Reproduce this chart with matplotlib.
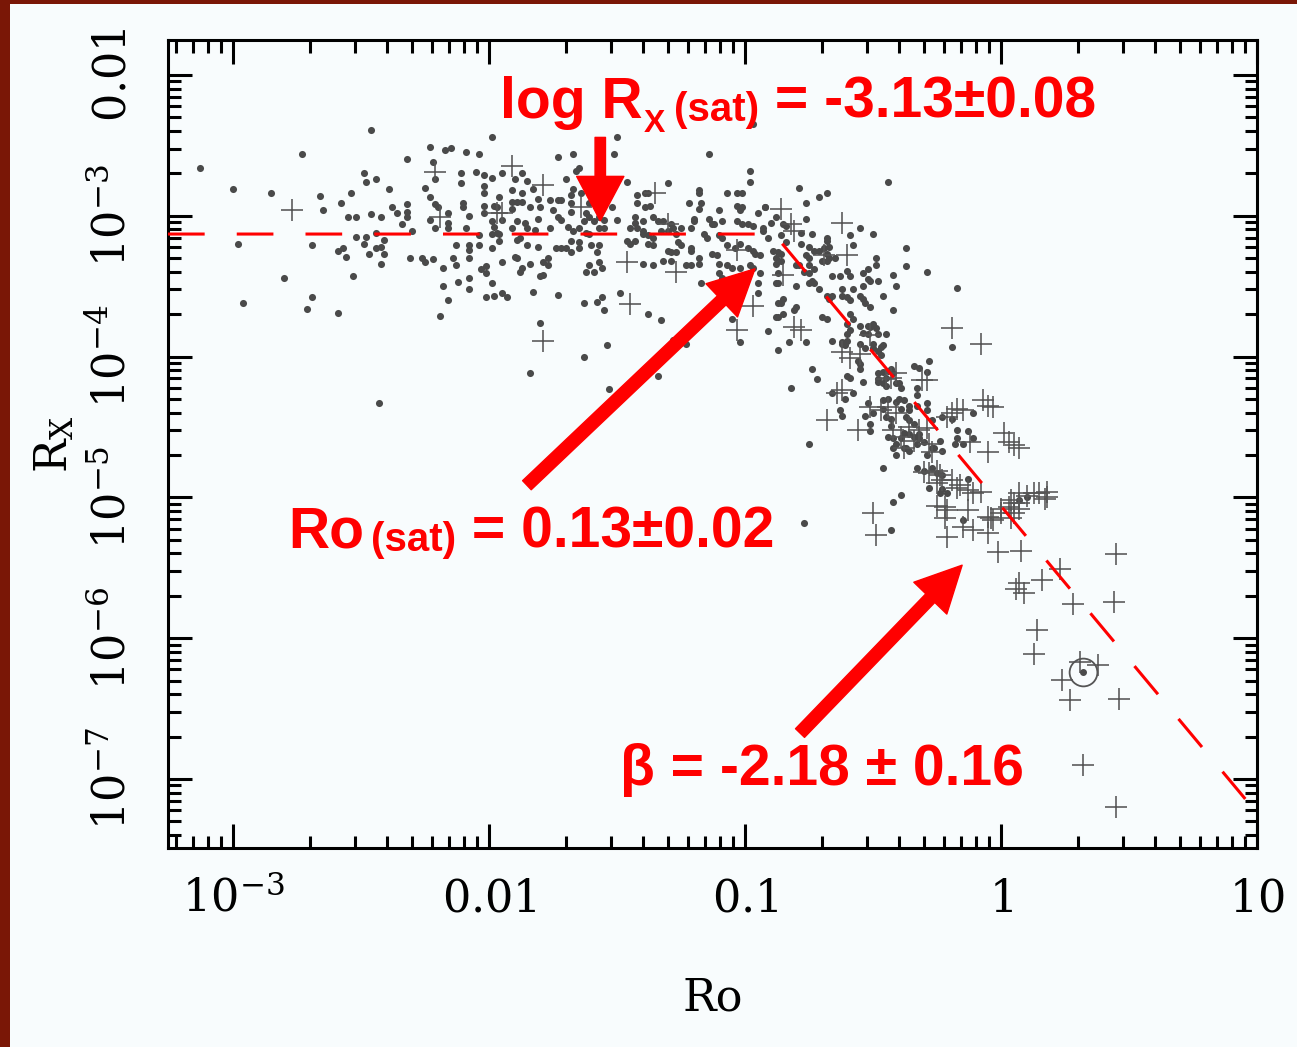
import numpy as np
import matplotlib
matplotlib.use("Agg")
import matplotlib.pyplot as plt
from matplotlib.patches import FancyArrowPatch, Rectangle
from matplotlib.ticker import FixedLocator, FixedFormatter, LogLocator, NullFormatter

# -----------------------------
# Data: (log10 Ro, log10 R_X)
# -----------------------------

sat_dots = [
    (-3.13, -2.66), (-3.00, -2.81), (-2.85, -2.84), (-2.73, -2.56), (-2.98, -3.20), (-2.96, -3.62),
    (-2.80, -3.44), (-2.66, -2.86), (-2.65, -2.96), (-2.69, -3.21), (-2.69, -3.58), (-2.71, -3.66),
    (-2.59, -3.69), (-2.58, -2.91), (-2.54, -2.84), (-2.55, -3.01), (-2.52, -3.01), (-2.52, -3.15),
    (-2.59, -3.25), (-2.57, -3.23), (-2.56, -3.29), (-2.53, -3.43), (-2.49, -2.70), (-2.48, -2.76),
    (-2.46, -2.39), (-2.44, -2.74), (-2.46, -2.99), (-2.42, -3.01), (-2.48, -3.15), (-2.49, -3.20),
    (-2.47, -3.27), (-2.44, -3.23), (-2.42, -3.22), (-2.44, -3.12), (-2.41, -3.17), (-2.41, -3.27),
    (-2.42, -3.34), (-2.39, -2.81), (-2.38, -2.94), (-2.36, -2.98), (-2.32, -2.92), (-2.32, -2.97),
    (-2.32, -3.01), (-2.34, -3.06), (-2.30, -3.11), (-2.32, -2.60), (-2.31, -3.30), (-2.26, -3.30),
    (-2.25, -3.33), (-2.22, -3.31), (-2.25, -2.80), (-2.23, -2.87), (-2.23, -2.51), (-2.22, -2.62),
    (-2.21, -2.74), (-2.21, -2.92), (-2.20, -2.94), (-2.23, -3.03), (-2.21, -3.09), (-2.16, -2.98),
    (-2.16, -3.05), (-2.16, -3.09), (-2.18, -3.37), (-2.18, -3.50), (-2.16, -3.60), (-2.19, -3.71),
    (-2.17, -2.53), (-2.15, -2.52), (-2.14, -3.30), (-2.13, -3.35), (-2.13, -3.21), (-2.12, -3.47),
    (-2.11, -2.70), (-2.11, -2.77), (-2.10, -2.91), (-2.10, -2.94), (-2.09, -3.09), (-2.09, -2.55),
    (-2.08, -3.00), (-2.08, -3.21), (-2.08, -3.24), (-2.08, -3.30), (-2.08, -3.44), (-2.08, -3.52),
    (-2.05, -2.69), (-2.04, -2.56), (-2.02, -2.71), (-2.02, -2.79), (-2.02, -2.84), (-2.02, -2.93),
    (-2.02, -2.98), (-2.04, -3.14), (-2.04, -3.21), (-2.03, -3.38), (-2.01, -3.36), (-2.01, -3.41),
    (-2.01, -3.58), (-1.98, -3.57), (-1.99, -3.48), (-1.99, -2.44), (-1.99, -2.73), (-1.98, -2.93),
    (-1.99, -3.04), (-1.99, -3.13), (-1.99, -3.23), (-1.97, -3.12), (-2.43, -4.33),
]

band_dots = [
    (-1.73, -2.58), (-1.67, -2.56), (-1.50, -2.44), (-1.51, -2.56), (-1.65, -2.66), (-1.66, -2.68),
    (-1.95, -2.70), (-1.87, -2.70), (-1.90, -2.74), (-1.85, -2.75), (-1.70, -2.74), (-1.83, -2.81),
    (-1.91, -2.82), (-1.87, -2.84), (-1.46, -2.76), (-1.67, -2.81), (-1.68, -2.85), (-1.96, -2.87),
    (-1.81, -2.88), (-1.76, -2.89), (-1.73, -2.89), (-1.72, -2.89), (-1.68, -2.91), (-1.64, -2.84),
    (-1.91, -2.90), (-1.89, -2.90), (-1.87, -2.90), (-1.97, -2.94), (-1.91, -2.95), (-1.84, -2.94),
    (-1.80, -2.94), (-1.75, -2.96), (-1.73, -3.01), (-1.72, -3.03), (-1.68, -2.97), (-1.61, -2.91),
    (-1.52, -2.94), (-1.95, -3.03), (-1.89, -3.04), (-1.81, -3.02), (-1.86, -3.05), (-1.62, -2.98),
    (-1.61, -3.01), (-1.59, -3.04), (-1.57, -3.01), (-1.55, -3.03), (-1.57, -3.09), (-1.55, -3.09),
    (-1.50, -3.03), (-1.98, -3.08), (-1.96, -3.13), (-1.91, -3.09), (-1.85, -3.09), (-1.82, -3.10),
    (-1.76, -3.09), (-1.69, -3.08), (-1.67, -3.11), (-1.65, -3.09), (-1.62, -3.12), (-1.61, -3.13),
    (-1.63, -3.04), (-1.96, -3.18), (-1.89, -3.17), (-1.88, -3.16), (-1.85, -3.21), (-1.81, -3.22),
    (-1.74, -3.23), (-1.72, -3.23), (-1.70, -3.23), (-1.68, -3.18), (-1.68, -3.26), (-1.65, -3.19),
    (-1.65, -3.23), (-1.60, -3.21), (-1.58, -3.26), (-1.57, -3.21), (-1.90, -3.29), (-1.89, -3.30),
    (-1.95, -3.33), (-1.84, -3.34), (-1.79, -3.33), (-1.77, -3.30), (-1.87, -3.37), (-1.88, -3.40),
    (-1.61, -3.35), (-1.59, -3.40), (-1.62, -3.40), (-1.57, -3.33), (-1.56, -3.37), (-1.77, -3.35),
    (-1.79, -3.42), (-1.80, -3.43), (-1.95, -3.55), (-1.93, -3.58), (-1.83, -3.54), (-1.73, -3.56),
    (-1.63, -3.62), (-1.58, -3.61), (-1.56, -3.58), (-1.55, -3.67), (-1.80, -3.76), (-1.49, -3.55),
    (-1.42, -2.85), (-1.39, -2.84), (-1.38, -2.84), (-1.42, -2.91), (-1.39, -2.94), (-1.37, -2.93),
    (-1.43, -3.01), (-1.43, -3.05), (-1.40, -3.04), (-1.45, -3.09), (-1.42, -3.09), (-1.40, -3.11),
    (-1.46, -3.18), (-1.45, -3.20), (-1.43, -3.18), (-1.40, -3.13), (-1.38, -3.14), (-1.36, -3.16),
    (-1.38, -3.20), (-1.36, -3.21), (-1.30, -2.77), (-1.30, -3.25), (-1.29, -3.26), (-1.36, -3.01),
    (-1.34, -3.04), (-1.32, -3.04), (-1.33, -3.11), (-1.30, -3.11), (-1.29, -3.06), (-1.28, -3.09),
    (-1.27, -3.13), (-1.25, -3.09), (-1.21, -3.09), (-1.26, -3.19), (-1.25, -3.21), (-1.27, -3.26),
    (-1.21, -3.23), (-1.21, -3.25), (-1.32, -3.32), (-1.29, -3.32), (-1.40, -3.34), (-1.36, -3.35),
    (-1.23, -3.35), (-1.21, -3.35), (-1.18, -3.30), (-1.18, -3.34), (-1.22, -2.91), (-1.18, -2.84),
    (-1.17, -2.91), (-1.18, -2.95), (-1.18, -2.82), (-1.14, -2.56), (-0.98, -2.68), (-0.98, -2.76),
    (-1.20, -3.04), (-1.20, -3.02), (-1.16, -3.13), (-1.15, -3.16), (-1.14, -3.02), (-1.10, -2.96),
    (-1.13, -3.06), (-1.12, -3.06), (-1.09, -3.04), (-1.07, -2.84), (-1.03, -2.84), (-1.01, -2.84),
    (-1.03, -2.93), (-1.02, -2.96), (-1.01, -2.94), (-0.95, -2.98), (-0.92, -2.94), (-1.10, -3.14),
    (-1.09, -3.16), (-1.03, -3.04), (-1.01, -3.06), (-0.99, -3.06), (-0.97, -3.07), (-0.93, -3.09),
    (-1.13, -3.27), (-1.11, -3.28), (-1.07, -3.21), (-1.04, -3.23), (-1.02, -3.20), (-0.99, -3.23),
    (-0.97, -3.25), (-0.96, -3.27), (-0.94, -3.28), (-1.10, -3.34), (-1.07, -3.35), (-1.05, -3.37),
    (-1.02, -3.37), (-0.98, -3.35), (-0.97, -3.37), (-1.10, -3.41), (-1.09, -3.44), (-1.17, -3.48),
    (-1.10, -3.48), (-0.95, -3.48), (-0.95, -3.55), (-1.05, -3.73), (-0.97, -2.35), (-1.38, -3.70),
    (-1.33, -3.74), (-1.63, -4.00), (-1.54, -3.92), (-1.84, -4.12), (-1.34, -4.14), (-1.53, -4.23),
    (-1.28, -3.88), (-1.23, -3.91), (-1.02, -3.90), (-0.91, -3.82), (-0.87, -3.95), (-0.94, -3.41),
    (-0.88, -3.48), (-0.87, -3.62), (-0.88, -3.72), (-0.77, -5.18),
]

knee_dots = [
    (-0.79, -2.80), (-0.71, -2.87), (-0.68, -2.84), (-0.44, -2.76), (-0.76, -2.91), (-0.92, -2.94),
    (-0.88, -3.01), (-0.90, -3.05), (-0.85, -3.06), (-0.84, -3.07), (-0.76, -3.02), (-0.78, -3.12),
    (-0.74, -3.13), (-0.93, -3.11), (-0.91, -3.16), (-0.86, -3.14), (-0.84, -3.19), (-0.68, -3.16),
    (-0.68, -3.18), (-0.78, -3.20), (-0.59, -3.14), (-0.55, -3.09), (-0.50, -3.13), (-0.75, -3.22),
    (-0.73, -3.25), (-0.89, -3.25), (-0.87, -3.26), (-0.86, -3.27), (-0.69, -3.23), (-0.67, -3.22),
    (-0.58, -3.21), (-0.37, -3.23), (-0.88, -3.30), (-0.86, -3.32), (-0.88, -3.34), (-0.76, -3.28),
    (-0.75, -3.30), (-0.71, -3.25), (-0.68, -3.27), (-0.67, -3.30), (-0.70, -3.32), (-0.68, -3.32),
    (-0.65, -3.30), (-0.49, -3.30), (-0.49, -3.35), (-0.52, -3.38), (-0.37, -3.36), (-0.29, -3.40),
    (-0.80, -3.35), (-0.79, -3.35), (-0.75, -3.35), (-0.73, -3.38), (-0.77, -3.40), (-0.75, -3.41),
    (-0.60, -3.39), (-0.87, -3.41), (-0.66, -3.43), (-0.63, -3.43), (-0.59, -3.43), (-0.54, -3.41),
    (-0.52, -3.45), (-0.51, -3.46), (-0.48, -3.46), (-0.42, -3.42), (-0.74, -3.46), (-0.73, -3.48),
    (-0.75, -3.48), (-0.80, -3.50), (-0.87, -3.48), (-0.58, -3.52), (-0.54, -3.50), (-0.41, -3.50),
    (-0.17, -3.51), (-0.71, -3.52), (-0.62, -3.52), (-0.68, -3.57), (-0.67, -3.59), (-0.66, -3.57),
    (-0.62, -3.57), (-0.60, -3.58), (-0.59, -3.60), (-0.55, -3.57), (-0.54, -3.59), (-0.53, -3.62),
    (-0.51, -3.65), (-0.46, -3.57), (-0.85, -3.59), (-0.86, -3.62), (-0.80, -3.65), (-0.81, -3.67),
    (-0.42, -3.67), (-0.70, -3.72), (-0.68, -3.73), (-0.59, -3.70), (-0.87, -3.72), (-0.85, -3.70),
    (-0.58, -3.73), (-0.60, -3.77), (-0.55, -3.78), (-0.52, -3.78), (-0.51, -3.79), (-0.50, -3.77),
    (-0.49, -3.80), (-0.48, -3.84), (-0.54, -3.83), (-0.52, -3.84), (-0.45, -3.84), (-0.59, -3.81),
    (-0.60, -3.84), (-0.83, -3.90), (-0.76, -3.90), (-0.66, -3.89), (-0.62, -3.90), (-0.60, -3.89),
    (-0.61, -3.92), (-0.55, -3.91), (-0.53, -3.94), (-0.50, -3.91), (-0.46, -3.92), (-0.47, -3.99),
    (-0.48, -3.96), (-0.19, -3.93), (-0.56, -4.03), (-0.55, -4.09), (-0.74, -4.09), (-0.72, -4.16),
    (-0.60, -4.14), (-0.34, -4.07), (-0.32, -4.08), (-0.29, -4.11), (-0.28, -4.03), (-0.48, -4.12),
    (-0.48, -4.16), (-0.45, -4.15), (-0.44, -4.10), (-0.42, -4.12), (-0.82, -4.22), (-0.41, -4.19),
]

tail_dots = [
    (-0.62, -3.91), (-0.50, -3.94), (-0.47, -3.93), (-0.55, -4.05), (-0.59, -4.15), (-0.54, -4.18),
    (-0.46, -4.11), (-0.48, -4.18), (-0.46, -4.19), (-0.45, -4.21), (-0.43, -4.09), (-0.40, -4.19),
    (-0.39, -4.22), (-0.33, -4.22), (-0.33, -4.27), (-0.66, -4.26), (-0.61, -4.30), (-0.58, -4.26),
    (-0.52, -4.33), (-0.50, -4.40), (-0.46, -4.31), (-0.44, -4.30), (-0.41, -4.32), (-0.40, -4.30),
    (-0.38, -4.31), (-0.36, -4.38), (-0.36, -4.35), (-0.33, -4.35), (-0.29, -4.33), (-0.63, -4.38),
    (-0.62, -4.42), (-0.53, -4.42), (-0.51, -4.48), (-0.51, -4.53), (-0.46, -4.37), (-0.45, -4.43),
    (-0.43, -4.44), (-0.43, -4.49), (-0.39, -4.37), (-0.37, -4.43), (-0.36, -4.45), (-0.34, -4.48),
    (-0.29, -4.38), (-0.27, -4.45), (-0.23, -4.43), (-0.44, -4.57), (-0.42, -4.58), (-0.41, -4.62),
    (-0.42, -4.65), (-0.41, -4.70), (-0.39, -4.58), (-0.38, -4.65), (-0.38, -4.54), (-0.36, -4.55),
    (-0.34, -4.57), (-0.32, -4.58), (-0.33, -4.62), (-0.32, -4.55), (-0.30, -4.61), (-0.27, -4.65),
    (-0.26, -4.65), (-0.24, -4.60), (-0.37, -4.65), (-0.36, -4.67), (-0.29, -4.70), (-0.23, -4.67),
    (-0.18, -4.62), (-0.17, -4.58), (-0.15, -4.62), (-0.19, -4.44), (-0.17, -4.52), (-0.13, -4.53),
    (-0.11, -4.40), (-0.11, -4.58), (-0.46, -4.79), (-0.75, -4.62), (-0.33, -4.79), (-0.30, -4.81),
    (-0.27, -4.79), (-0.25, -4.83), (-0.23, -4.84), (-0.28, -4.93), (-0.24, -4.97), (-0.21, -4.97),
    (-0.23, -4.94), (-0.39, -4.98), (-0.42, -5.03), (-0.13, -4.87), (-0.15, -5.16), (-0.43, -5.23),
    (0.07, -5.02), (0.10, -5.00),
]

cross_pts = [
    (-2.77, -2.96), (-2.21, -2.69), (-2.19, -3.01), (-1.97, -2.98), (-1.91, -2.65), (-1.79, -2.78),
    (-1.95, -2.98), (-1.64, -2.94), (-1.35, -2.84), (-1.30, -3.06), (-1.46, -3.33), (-1.27, -3.40),
    (-1.45, -3.63), (-1.79, -3.89), (-1.03, -3.24), (-0.97, -3.64), (-1.03, -3.81), (-0.86, -2.95),
    (-0.82, -3.06), (-0.81, -3.11), (-0.62, -3.05), (-0.60, -3.28), (-0.69, -3.28), (-0.85, -3.42),
    (-0.81, -3.79), (-0.78, -3.81), (-0.19, -3.80), (-0.08, -3.91), (-0.62, -3.97), (-0.55, -3.98),
    (-0.51, -3.85), (-0.43, -4.15), (-0.45, -4.16), (-0.31, -4.17), (-0.64, -4.26), (-0.62, -4.24),
    (-0.59, -4.01), (-0.41, -4.12), (-0.29, -4.17), (-0.68, -4.45), (-0.56, -4.52), (-0.51, -4.36),
    (-0.47, -4.38), (-0.44, -4.36), (-0.41, -4.40), (-0.36, -4.50), (-0.34, -4.60), (-0.32, -4.52),
    (-0.29, -4.51), (-0.42, -4.52), (-0.39, -4.57), (-0.38, -4.65), (-0.28, -4.62), (-0.27, -4.68),
    (-0.21, -4.43), (-0.19, -4.40), (-0.17, -4.37), (-0.15, -4.38), (-0.07, -4.31), (-0.05, -4.35),
    (-0.03, -4.36), (-0.05, -4.68), (0.01, -4.54), (0.03, -4.61), (0.05, -4.63), (0.07, -4.65),
    (-0.12, -4.61), (-0.30, -4.82), (-0.28, -4.83), (-0.25, -4.81), (-0.24, -4.84), (-0.19, -4.88),
    (-0.17, -4.93), (-0.11, -4.97), (-0.08, -4.96), (-0.22, -5.07), (-0.21, -5.09), (-0.13, -5.09),
    (-0.05, -5.14), (-0.03, -5.16), (0.00, -5.11), (-0.50, -5.11), (-0.49, -5.27), (-0.21, -5.28),
    (-0.15, -5.21), (-0.11, -5.23), (0.00, -5.08), (0.03, -5.07), (0.05, -5.04), (0.07, -4.97),
    (0.10, -4.99), (0.13, -4.97), (0.18, -4.96), (0.18, -5.00), (-0.01, -5.39), (0.08, -5.38),
    (-0.25, -4.90), (-0.23, -4.88), (-0.16, -4.91), (-0.13, -4.95), (-0.25, -5.06), (-0.22, -5.15),
    (-0.04, -5.15), (-0.05, -5.25), (0.04, -5.15), (0.05, -5.11), (0.07, -5.08), (0.15, -4.97),
    (0.17, -5.01), (0.04, -5.02), (0.07, -5.04), (0.23, -5.51), (0.16, -5.59), (0.07, -5.61),
    (0.06, -5.65), (0.09, -5.68), (0.45, -5.40), (0.28, -5.76), (0.44, -5.74), (0.14, -5.94),
    (0.13, -6.11), (0.31, -6.17), (0.38, -6.19), (0.24, -6.30), (0.27, -6.44), (0.46, -6.43),
    (0.32, -6.90), (0.45, -7.20),
]

sun_log = (0.32, -6.24)

# fit parameters
LOG_RX_SAT = -3.13
RO_SAT = 0.13
BETA = -2.18

XLIM = (10 ** -3.254, 10.0)
YLIM = (10 ** -7.49, 10 ** -1.752)

X_TICKS = [1e-3, 1e-2, 1e-1, 1, 10]
X_TICK_LABELS = [r"$10^{-3}$", r"$0.01$", r"$0.1$", r"$1$", r"$10$"]
Y_TICKS = [1e-2, 1e-3, 1e-4, 1e-5, 1e-6, 1e-7]
Y_TICK_LABELS = [r"$0.01$", r"$10^{-3}$", r"$10^{-4}$", r"$10^{-5}$", r"$10^{-6}$", r"$10^{-7}$"]

# -----------------------------
# Figure
# -----------------------------
W, H = 1297, 1047
plt.rcParams["font.family"] = "DejaVu Serif"
plt.rcParams["mathtext.fontset"] = "dejavuserif"

fig = plt.figure(figsize=(W / 100, H / 100), dpi=100)
fig.patch.set_facecolor("#7a1706")
fig.add_artist(Rectangle((10 / W, 0), 1 - 10 / W, 1 - 4 / H, transform=fig.transFigure,
                         facecolor="#f8fcfd", edgecolor="none", zorder=-1))

ax = fig.add_axes([168 / W, 1 - 848 / H, 1089 / W, 808 / H])
ax.set_facecolor("#f8fcfd")
ax.set_xscale("log")
ax.set_yscale("log")
ax.set_xlim(*XLIM)
ax.set_ylim(*YLIM)


def unpack(pts):
    arr = np.array(pts)
    return 10 ** arr[:, 0], 10 ** arr[:, 1]


for grp in (sat_dots, band_dots, knee_dots, tail_dots):
    x, y = unpack(grp)
    ax.scatter(x, y, s=26, color="#4a4a4a", linewidths=0, zorder=2)

x, y = unpack(cross_pts)
ax.scatter(x, y, s=270, marker="+", color="#555555", linewidths=1.15, zorder=2)

ax.plot(10 ** sun_log[0], 10 ** sun_log[1], "o", mfc="none", mec="#555555", ms=20, mew=1.3, zorder=2)
ax.plot(10 ** sun_log[0], 10 ** sun_log[1], "o", color="#4a4a4a", ms=4, zorder=2)

# saturation + power-law fit
ro_fit = np.array([XLIM[0], RO_SAT, 9.0])
rx_fit = 10 ** LOG_RX_SAT * np.where(ro_fit > RO_SAT, (ro_fit / RO_SAT) ** BETA, 1.0)
ax.plot(ro_fit, rx_fit, color="red", lw=2.2, dashes=(12, 10.5), zorder=3)

# arrows
arrows = [
    ((0.0272, 3.6e-3), (0.0272, 9.2e-4), "simple,head_length=32,head_width=34,tail_width=7.5"),
    ((0.01406, 1.22e-5), (0.1094, 4.2e-4), "simple,head_length=33,head_width=33,tail_width=9"),
    ((0.164, 2.12e-7), (0.705, 3.3e-6), "simple,head_length=33,head_width=33,tail_width=9"),
]
for a, b, style in arrows:
    ax.add_patch(FancyArrowPatch(a, b, arrowstyle=style, mutation_scale=1, color="red",
                                 shrinkA=0, shrinkB=0, zorder=4))

# -----------------------------
# Axes styling
# -----------------------------
for s in ax.spines.values():
    s.set_linewidth(2.2)

ax.xaxis.set_major_locator(FixedLocator(X_TICKS))
ax.xaxis.set_major_formatter(FixedFormatter(X_TICK_LABELS))
ax.yaxis.set_major_locator(FixedLocator(Y_TICKS))
ax.yaxis.set_major_formatter(FixedFormatter(Y_TICK_LABELS))
for axis in (ax.xaxis, ax.yaxis):
    axis.set_minor_locator(LogLocator(base=10, subs=np.arange(2, 10), numticks=30))
    axis.set_minor_formatter(NullFormatter())

ax.tick_params(which="both", direction="in", top=True, right=True, width=2.2, labelsize=32, color="black")
ax.tick_params(which="major", length=17)
ax.tick_params(which="minor", length=9)
ax.tick_params(axis="x", pad=46)
ax.tick_params(axis="y", pad=24, labelrotation=90)
for lab in ax.get_xticklabels():
    lab.set_verticalalignment("baseline")
for lab in ax.get_yticklabels():
    lab.set_verticalalignment("center")

ax.set_xlabel("Ro", fontsize=32, labelpad=40)
ax.set_ylabel(r"R$_\mathrm{X}$", fontsize=32, labelpad=10)

# -----------------------------
# Red annotations
# -----------------------------
SANS = ["Liberation Sans", "DejaVu Sans"]
BIG, SMALL, SUB = 41, 29, 23


def start(px, py, s):
    return fig.text(px / W, 1 - py / H, s, fontsize=BIG, fontweight="bold", color="red",
                    family=SANS, ha="left", va="baseline", zorder=6)


def chain(prev, base, s, size, dx, dy):
    return ax.annotate(s, xy=(1, 0), xycoords=(prev, base), xytext=(dx, dy),
                       textcoords="offset pixels", ha="left", va="bottom", fontsize=size,
                       fontweight="bold", color="red", family=SANS, zorder=6)


t1 = start(500, 118, "log R")
t1x = chain(t1, t1, "X", SUB, 1, -9)
t1s = chain(t1x, t1, "(sat)", SMALL, 9, 1)
chain(t1s, t1, " = -3.13\u00b10.08", BIG, 0, 0)

t2 = start(288, 548, "Ro")
t2s = chain(t2, t2, "(sat)", SMALL, 7, 1)
chain(t2s, t2, " = 0.13\u00b10.02", BIG, 0, 0)

start(620, 785, "\u03b2 = -2.18 \u00b1 0.16")

fig.savefig("out.png", dpi=100, facecolor=fig.get_facecolor())
